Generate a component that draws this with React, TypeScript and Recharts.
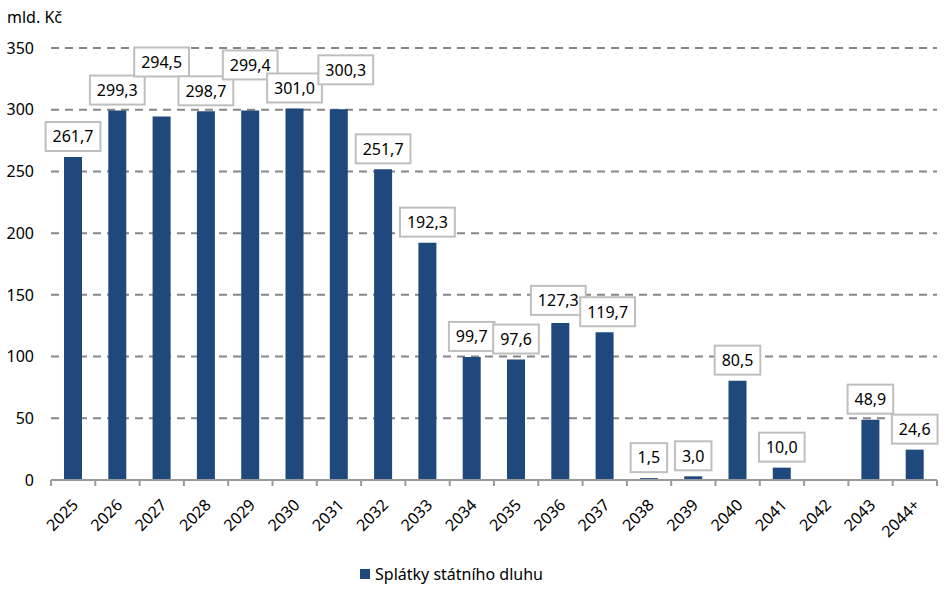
import { BarChart, Bar, XAxis, YAxis, CartesianGrid, Legend, LabelList } from "recharts";

const YEARS = [
    "2025", "2026", "2027", "2028", "2029", "2030", "2031", "2032", "2033", "2034",
    "2035", "2036", "2037", "2038", "2039", "2040", "2041", "2042", "2043", "2044+",
];
const REPAYMENTS: (number | null)[] = [
    261.7, 299.3, 294.5, 298.7, 299.4, 301.0, 300.3, 251.7, 192.3, 99.7,
    97.6, 127.3, 119.7, 1.5, 3.0, 80.5, 10.0, null, 48.9, 24.6,
];
const Y_TICKS = [0, 50, 100, 150, 200, 250, 300, 350];
const SERIES_NAME = "Splátky státního dluhu";
const UNIT = "mld. Kč";

const W = 945;
const H = 591;
const MARGIN = { top: 48, right: 8, left: 0, bottom: 2 };
const Y_AXIS_W = 51;
const BAND = (W - MARGIN.left - MARGIN.right - Y_AXIS_W) / YEARS.length;

const FONT = "'Noto Sans', 'DejaVu Sans', sans-serif";
const BAR_COLOR = "#1f497d";
const AXIS_COLOR = "#9a9a9a";
const GRID_COLOR = "#868686";
const BOX_COLOR = "#bfbfbf";

// labels that Excel had to push up (or sideways) to keep them from overlapping
const LABEL_NUDGE: Record<number, { dx: number; dy: number }> = {
    2: { dx: 0, dy: 34 },
    4: { dx: 0, dy: 25 },
    6: { dx: 7, dy: 19 },
    11: { dx: -2, dy: 2 },
    12: { dx: 3, dy: 0 },
};

const data = YEARS.map((year, i) => ({ year, value: REPAYMENTS[i] }));

const fmt = (v: number) => v.toFixed(1).replace(".", ",");

function ValueBox(props: any) {
    const { x, y, width, value, index } = props;
    if (value == null) return null;
    const text = fmt(value);
    const textW = text.replace(",", "").length * 9.15 + 4.2;
    const boxW = textW + 14;
    const boxH = 29;
    const nudge = LABEL_NUDGE[index] ?? { dx: 0, dy: 0 };
    const cx = x + width / 2 + nudge.dx;
    const bottom = y - 6 - nudge.dy;
    return (
        <g>
            <rect x={cx - boxW / 2} y={bottom - boxH} width={boxW} height={boxH}
                fill="#fff" stroke={BOX_COLOR} strokeWidth={2} />
            <text x={cx} y={bottom - boxH / 2} dy="0.36em" textAnchor="middle"
                fontSize={16} fill="#000" fontFamily={FONT}>{text}</text>
        </g>
    );
}

function YearTick(props: any) {
    const { x, y, payload, index } = props;
    const half = BAND / 2;
    const ax = x + 6;
    const ay = y + 26;
    return (
        <g>
            <line x1={x - half} x2={x - half} y1={y} y2={y + 6} stroke={AXIS_COLOR} strokeWidth={2} />
            {index === YEARS.length - 1 && (
                <line x1={x + half} x2={x + half} y1={y} y2={y + 6} stroke={AXIS_COLOR} strokeWidth={2} />
            )}
            <text x={ax} y={ay} transform={`rotate(-45 ${ax} ${ay})`} textAnchor="end"
                fontSize={16} fill="#000" fontFamily={FONT}>{payload.value}</text>
        </g>
    );
}

function LegendBox() {
    return (
        <div style={{ height: 30, display: "flex", alignItems: "center", justifyContent: "center",
            paddingRight: 34, fontFamily: FONT, fontSize: 16, color: "#000" }}>
            <span style={{ width: 10, height: 10, background: BAR_COLOR, marginRight: 5, display: "inline-block" }} />
            <span>{SERIES_NAME}</span>
        </div>
    );
}

export default function App() {
    return (
        <div style={{ position: "absolute", left: 0, top: 0, width: W, height: H, background: "#fff", fontFamily: FONT }}>
            <BarChart width={W} height={H} data={data} margin={MARGIN}>
                <CartesianGrid vertical={false} stroke={GRID_COLOR} strokeWidth={2} strokeDasharray="8 6" />
                <XAxis dataKey="year" interval={0} height={79} tickSize={0} tickMargin={0}
                    axisLine={{ stroke: AXIS_COLOR, strokeWidth: 2 }} tickLine={false} tick={<YearTick />} />
                <YAxis width={Y_AXIS_W} domain={[0, 350]} ticks={Y_TICKS} axisLine={false} tickLine={false}
                    tickSize={0} tickMargin={17} tick={{ fontSize: 16, fill: "#000", fontFamily: FONT }}
                    label={{
                        content: () => (
                            <text x={7} y={23} fontSize={16} fill="#000" fontFamily={FONT}>{UNIT}</text>
                        ),
                    }} />
                <Legend verticalAlign="bottom" content={<LegendBox />} />
                <Bar dataKey="value" name={SERIES_NAME} fill={BAR_COLOR} barSize={18} isAnimationActive={false}>
                    <LabelList dataKey="value" content={<ValueBox />} />
                </Bar>
            </BarChart>
        </div>
    );
}
